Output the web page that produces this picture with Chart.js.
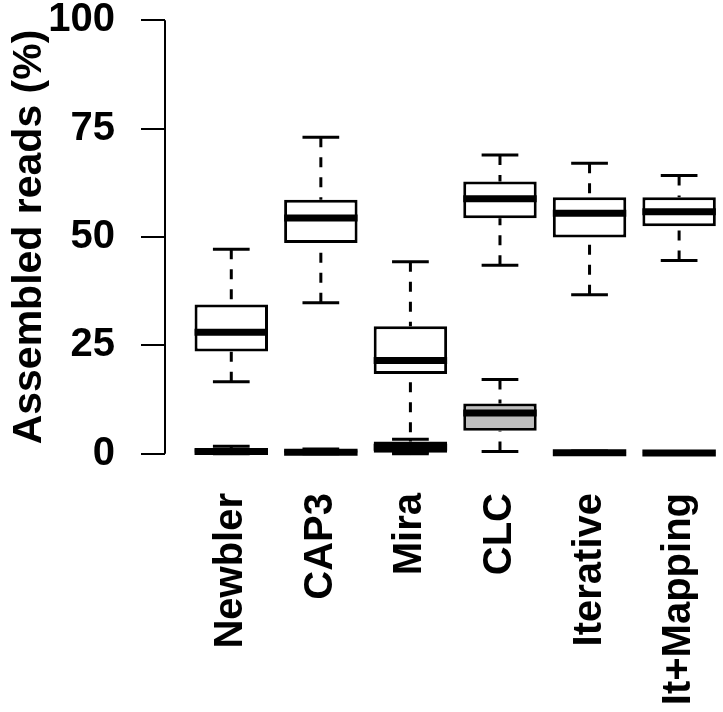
<!DOCTYPE html>
<html>
<head>
<meta charset="utf-8">
<title>Assembled reads</title>
<script src="https://cdn.jsdelivr.net/npm/chart.js@4.4.1/dist/chart.umd.min.js"></script>
<style>
  body { margin: 0; background: #fff; }
</style>
</head>
<body>
<canvas id="myChart" width="723" height="712"></canvas>
<script>
const categories = ["Newbler", "CAP3", "Mira", "CLC", "Iterative", "It+Mapping"];

// white boxes
const mainMin = [16.6, 34.8, 0.3, 43.5, 36.7, 44.6];
const mainQ1 = [23.6, 48.6, 18.4, 54.3, 49.9, 52.5];
const mainMedian = [28.0, 54.4, 21.5, 58.8, 55.5, 55.8];
const mainQ3 = [34.4, 58.6, 29.4, 62.8, 59.2, 59.2];
const mainMax = [47.2, 73.0, 44.3, 68.9, 67.0, 64.2];

// grey boxes
const greyMin = [0, 0, 0, 0.5, 0, 0];
const greyQ1 = [0, 0, 0, 5.3, 0, 0];
const greyMedian = [0.5, 0.3, 1.5, 9.4, 0.2, 0.15];
const greyQ3 = [1.2, 0.8, 2.8, 11.6, 0.4, 0.3];
const greyMax = [1.7, 1.1, 3.3, 17.1, 0.6, 0.5];

const yTicks = [0, 25, 50, 75, 100];

const fontFamily = "'Liberation Sans', Arial, Helvetica, sans-serif";
const bigFont = { family: fontFamily, size: 40, weight: "bold" };
const titleFont = { family: fontFamily, size: 41, weight: "bold" };

const makeBoxes = (q1, q3) => categories.map((c, i) => ({ x: i, y: [q1[i], q3[i]] }));

/////////////////bigotes y medianas///////////////////////
const whiskerPlugin = {
  id: "whiskers",
  afterDatasetDraw: (chart, args) => {
    const s = chart.data.datasets[args.index].stats;
    const ctx = chart.ctx;
    const y = chart.scales.y;
    ctx.save();
    ctx.strokeStyle = "#000";
    ctx.lineCap = "butt";
    args.meta.data.forEach((bar, i) => {
      const { x, width } = bar.getProps(["x", "width"], true);
      const half = width / 2;
      const cap = half / 2;

      ctx.lineWidth = 3;
      ctx.setLineDash([10, 10]);
      ctx.beginPath();
      ctx.moveTo(x, y.getPixelForValue(s.max[i]));
      ctx.lineTo(x, y.getPixelForValue(s.q3[i]));
      ctx.stroke();
      ctx.beginPath();
      ctx.moveTo(x, y.getPixelForValue(s.min[i]));
      ctx.lineTo(x, y.getPixelForValue(s.q1[i]));
      ctx.stroke();

      ctx.setLineDash([]);
      ctx.beginPath();
      ctx.moveTo(x - cap, y.getPixelForValue(s.max[i]));
      ctx.lineTo(x + cap, y.getPixelForValue(s.max[i]));
      ctx.moveTo(x - cap, y.getPixelForValue(s.min[i]));
      ctx.lineTo(x + cap, y.getPixelForValue(s.min[i]));
      ctx.stroke();

      ctx.lineWidth = 7;
      ctx.beginPath();
      ctx.moveTo(x - half, y.getPixelForValue(s.median[i]));
      ctx.lineTo(x + half, y.getPixelForValue(s.median[i]));
      ctx.stroke();
    });
    ctx.restore();
  },
  afterDraw: (chart) => {
    // eje y solo de 0 a 100
    const ctx = chart.ctx;
    const y = chart.scales.y;
    const left = chart.chartArea.left;
    ctx.save();
    ctx.strokeStyle = "#000";
    ctx.lineWidth = 2;
    ctx.beginPath();
    ctx.moveTo(left, y.getPixelForValue(yTicks[0]));
    ctx.lineTo(left, y.getPixelForValue(yTicks[yTicks.length - 1]));
    ctx.stroke();
    ctx.restore();
  },
};

/////////////////grafico///////////////////////
var ctx = document.getElementById("myChart").getContext("2d");
var myChart = new Chart(ctx, {
  type: "bar",
  data: {
    datasets: [
      {
        label: "main",
        data: makeBoxes(mainQ1, mainQ3),
        stats: { min: mainMin, q1: mainQ1, median: mainMedian, q3: mainQ3, max: mainMax },
        backgroundColor: "#ffffff",
        borderColor: "#000000",
        borderWidth: 3,
        borderSkipped: false,
        order: 2,
      },
      {
        label: "grey",
        data: makeBoxes(greyQ1, greyQ3),
        stats: { min: greyMin, q1: greyQ1, median: greyMedian, q3: greyQ3, max: greyMax },
        backgroundColor: "#bebebe",
        borderColor: "#000000",
        borderWidth: 3,
        borderSkipped: false,
        order: 1,
      },
    ],
  },
  options: {
    responsive: false,
    animation: false,
    grouped: false,
    categoryPercentage: 1,
    barPercentage: 0.82,
    layout: { padding: { top: 3, left: 0, right: 0, bottom: 0 } },
    plugins: {
      legend: { display: false },
      tooltip: { enabled: false },
    },
    scales: {
      x: {
        type: "linear",
        offset: false,
        min: -0.74,
        max: 5.49,
        afterBuildTicks: (scale) => {
          scale.ticks = categories.map((c, i) => ({ value: i }));
        },
        afterFit: (scale) => {
          scale.height = 241;
          scale.paddingLeft = 0;
          scale.paddingRight = 0;
        },
        grid: { display: false, drawTicks: false, offset: false },
        border: { display: false },
        ticks: {
          autoSkip: false,
          minRotation: 90,
          maxRotation: 90,
          padding: 22,
          color: "#000",
          font: bigFont,
          callback: (v) => categories[v],
        },
      },
      y: {
        min: -4,
        max: 104,
        afterBuildTicks: (scale) => {
          scale.ticks = yTicks.map((v) => ({ value: v }));
        },
        afterFit: (scale) => {
          scale.width = 165;
          scale.paddingTop = 0;
          scale.paddingBottom = 0;
        },
        grid: { drawOnChartArea: false, drawTicks: true, tickLength: 24, color: "#000", lineWidth: 2 },
        border: { display: false },
        ticks: { padding: 26, color: "#000", font: bigFont },
        title: {
          display: true,
          text: "Assembled reads (%)",
          color: "#000",
          font: titleFont,
          padding: { top: 5, bottom: 0 },
        },
      },
    },
  },
  plugins: [whiskerPlugin],
});
</script>
</body>
</html>
